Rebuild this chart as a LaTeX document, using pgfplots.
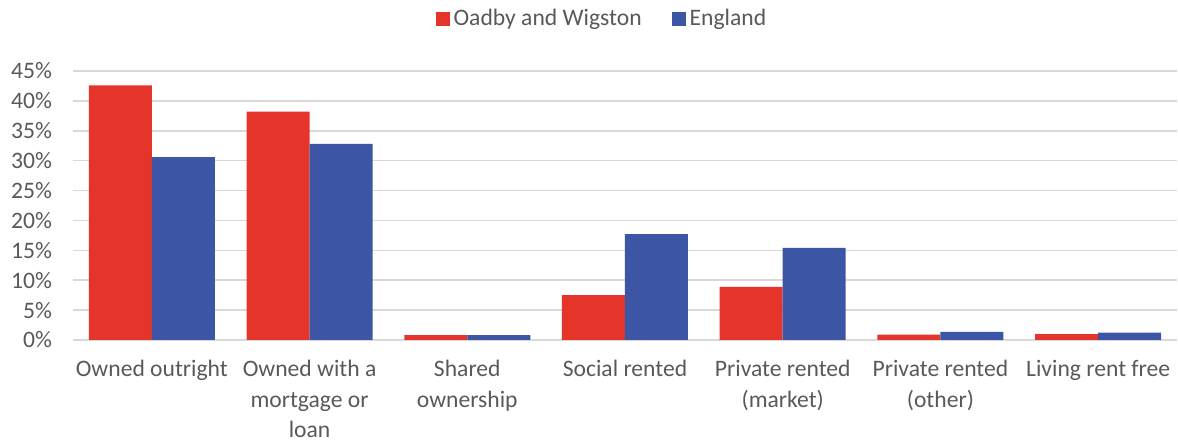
\documentclass[border=0pt]{standalone}
\usepackage{pgfplots}
\pgfplotsset{compat=1.18}
\usepackage{fontspec}
\setmainfont{Carlito}
\definecolor{oadby}{HTML}{E5352A}
\definecolor{eng}{HTML}{3C56A5}
\definecolor{txt}{HTML}{595959}
\definecolor{grd}{HTML}{D9D9D9}
\begin{document}
\begin{tikzpicture}
\useasboundingbox (-36.5pt,-51pt) rectangle (552.5pt,170pt);
\begin{axis}[
  at={(0pt,0pt)}, anchor=south west,
  scale only axis,
  width=552pt, height=134.5pt,
  ybar=0pt, bar width=31.5pt,
  xmin=-0.5, xmax=6.5,
  ymin=0, ymax=45,
  ytick={0,5,...,45},
  yticklabel={\pgfmathprintnumber{\tick}\%},
  xtick={0,...,6},
  xticklabels={Owned outright,{Owned with a\\mortgage or\\loan},{Shared\\ownership},Social rented,{Private rented\\(market)},{Private rented\\(other)},Living rent free},
  xticklabel style={align=center, font=\fontsize{11.8}{15.3}\selectfont, text=txt, yshift=-6.5pt},
  yticklabel style={font=\fontsize{11.8}{14}\selectfont, text=txt, xshift=-7pt},
  /pgf/number format/assume math mode=true,
  major tick length=0pt,
  ymajorgrids, grid style={grd, line width=0.8pt},
  axis x line*=bottom,
  axis y line*=left,
  x axis line style={draw=grd, line width=0.8pt, -},
  y axis line style={draw=none},
  ytick style={draw=none}, xtick style={draw=none},
  legend style={at={(0.48,1.193)}, anchor=center, draw=none, legend columns=2,
    font=\fontsize{11.8}{14}\selectfont, text=txt,
    /tikz/every even column/.append style={column sep=13pt}},
  legend image code/.code={\fill[#1] (0pt,-3.5pt) rectangle (7pt,3.5pt);},
  clip=false,
]
\addplot[fill=oadby, draw=none] coordinates {(0,42.6) (1,38.2) (2,0.8) (3,7.5) (4,8.9) (5,0.9) (6,1.0)};
\addplot[fill=eng, draw=none] coordinates {(0,30.6) (1,32.8) (2,0.8) (3,17.7) (4,15.4) (5,1.35) (6,1.25)};
\legend{Oadby and Wigston, England}
\end{axis}
\end{tikzpicture}
\end{document}
